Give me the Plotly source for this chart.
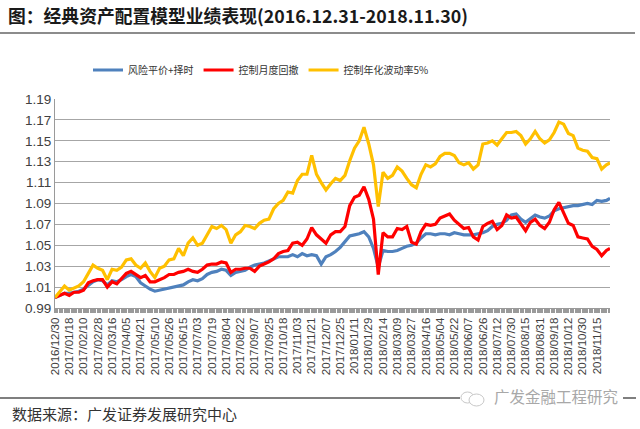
import plotly.graph_objects as go

# ---- data -------------------------------------------------------------
tick_labels = [
    "2016/12/30", "2017/01/18", "2017/02/10", "2017/02/28", "2017/03/16",
    "2017/04/05", "2017/04/21", "2017/05/10", "2017/05/26", "2017/06/15",
    "2017/07/03", "2017/07/19", "2017/08/04", "2017/08/22", "2017/09/07",
    "2017/09/25", "2017/10/18", "2017/11/03", "2017/11/21", "2017/12/07",
    "2017/12/25", "2018/01/11", "2018/01/29", "2018/02/14", "2018/03/09",
    "2018/03/27", "2018/04/16", "2018/05/04", "2018/05/22", "2018/06/07",
    "2018/06/26", "2018/07/12", "2018/07/30", "2018/08/15", "2018/08/31",
    "2018/09/18", "2018/10/12", "2018/10/30", "2018/11/15",
]
label_spacing = 12          # trading days between labels
day_index = list(range(0, 465, 4)) + [467]   # trading-day index of each reading

risk_parity_timing = [
    1.000, 1.002, 1.004, 1.004, 1.005, 1.006, 1.008, 1.012, 1.015, 1.017,
    1.016, 1.012, 1.016, 1.015, 1.017, 1.020, 1.022, 1.020, 1.014, 1.011,
    1.008, 1.006, 1.007, 1.008, 1.009, 1.010, 1.011, 1.012, 1.015, 1.017,
    1.016, 1.018, 1.022, 1.024, 1.025, 1.027, 1.026, 1.021, 1.024, 1.025,
    1.026, 1.029, 1.031, 1.032, 1.033, 1.035, 1.037, 1.039, 1.039, 1.039,
    1.041, 1.039, 1.042, 1.040, 1.041, 1.040, 1.032, 1.039, 1.041, 1.044,
    1.048, 1.053, 1.059, 1.060, 1.061, 1.063, 1.058, 1.047, 1.029, 1.045,
    1.044, 1.044, 1.045, 1.047, 1.049, 1.050, 1.052, 1.057, 1.061, 1.061,
    1.060, 1.061, 1.061, 1.060, 1.062, 1.061, 1.060, 1.060, 1.060, 1.061,
    1.062, 1.064, 1.068, 1.070, 1.071, 1.074, 1.079, 1.080, 1.075, 1.072,
    1.076, 1.079, 1.077, 1.076, 1.078, 1.083, 1.085, 1.086, 1.087, 1.088,
    1.088, 1.089, 1.090, 1.089, 1.093, 1.092, 1.093, 1.095,
]
monthly_drawdown_ctrl = [
    1.000, 1.002, 1.004, 1.002, 1.005, 1.005, 1.007, 1.014, 1.016, 1.017,
    1.017, 1.010, 1.015, 1.013, 1.018, 1.023, 1.025, 1.022, 1.019, 1.021,
    1.015, 1.015, 1.017, 1.019, 1.022, 1.022, 1.024, 1.025, 1.027, 1.025,
    1.024, 1.027, 1.031, 1.032, 1.032, 1.034, 1.033, 1.024, 1.027, 1.027,
    1.028, 1.028, 1.025, 1.030, 1.032, 1.034, 1.037, 1.042, 1.044, 1.045,
    1.052, 1.053, 1.050, 1.056, 1.067, 1.060, 1.056, 1.052, 1.060, 1.063,
    1.063, 1.068, 1.088, 1.096, 1.098, 1.106, 1.094, 1.075, 1.022, 1.062,
    1.058, 1.058, 1.066, 1.065, 1.068, 1.053, 1.051, 1.063, 1.070, 1.069,
    1.070, 1.076, 1.078, 1.080, 1.074, 1.070, 1.066, 1.067, 1.058, 1.055,
    1.068, 1.071, 1.073, 1.065, 1.069, 1.079, 1.076, 1.077, 1.071, 1.064,
    1.072, 1.075, 1.069, 1.066, 1.072, 1.084, 1.091, 1.080, 1.071, 1.069,
    1.058, 1.057, 1.056, 1.049, 1.046, 1.040, 1.045, 1.047,
]
vol_target_5 = [
    1.000, 1.006, 1.011, 1.007, 1.009, 1.011, 1.015, 1.023, 1.031, 1.028,
    1.026, 1.017, 1.027, 1.026, 1.029, 1.036, 1.037, 1.031, 1.028, 1.033,
    1.025, 1.019, 1.028, 1.030, 1.036, 1.037, 1.047, 1.040, 1.052, 1.057,
    1.050, 1.052, 1.060, 1.068, 1.066, 1.069, 1.065, 1.052, 1.060, 1.063,
    1.069, 1.068, 1.066, 1.071, 1.074, 1.075, 1.085, 1.090, 1.093, 1.101,
    1.100, 1.112, 1.118, 1.118, 1.136, 1.118, 1.110, 1.103, 1.109, 1.114,
    1.112, 1.117, 1.131, 1.143, 1.150, 1.163, 1.147, 1.127, 1.087, 1.120,
    1.114, 1.117, 1.125, 1.121, 1.114, 1.108, 1.105, 1.118, 1.127, 1.125,
    1.128, 1.135, 1.138, 1.138, 1.136, 1.129, 1.127, 1.129, 1.123, 1.127,
    1.147, 1.148, 1.150, 1.146, 1.152, 1.158, 1.158, 1.159, 1.155, 1.147,
    1.152, 1.159, 1.152, 1.148, 1.151, 1.158, 1.168, 1.166, 1.157, 1.155,
    1.143, 1.141, 1.140, 1.134, 1.133, 1.123, 1.127, 1.129,
]
y_ticks = [0.99, 1.01, 1.03, 1.05, 1.07, 1.09, 1.11, 1.13, 1.15, 1.17, 1.19]

series_names = ["风险平价+择时", "控制月度回撤", "控制年化波动率5%"]
series_colors = ["#4F81BD", "#FF0000", "#FFC000"]

# ---- figure -----------------------------------------------------------
W, H = 640, 429
L, R, T, B = 55, 30, 99, 121
PW, PH = W - L - R, H - T - B


def px_x(x):   # page pixel -> paper x
    return (x - L) / PW


def px_y(y):   # page pixel -> paper y
    return (H - B - y) / PH


fig = go.Figure()
for name, vals, col in zip(series_names,
                           [risk_parity_timing, monthly_drawdown_ctrl, vol_target_5],
                           series_colors):
    fig.add_trace(go.Scatter(x=day_index, y=vals, mode="lines", name=name,
                             line=dict(color=col, width=3.2)))

tickvals = [i * label_spacing for i in range(len(tick_labels))]
grey = "#9a9a9a"

fig.update_layout(
    width=W, height=H,
    margin=dict(l=L, r=R, t=T, b=B, autoexpand=False),
    paper_bgcolor="white", plot_bgcolor="white",
    title=dict(
        text="<b>图：经典资产配置模型业绩表现(2016.12.31-2018.11.30)</b>",
        font=dict(family="Noto Sans CJK SC", size=17.8, color="#1a1a1a"),
        x=8 / W, xanchor="left", xref="container",
        y=1 - 17 / H, yanchor="middle", yref="container",
    ),
    showlegend=True,
    legend=dict(
        orientation="h", x=px_x(88), xanchor="left", y=px_y(70), yanchor="middle",
        font=dict(family="Noto Sans CJK SC", size=10, color="#333333"),
        bgcolor="rgba(0,0,0,0)", itemwidth=30,
    ),
    xaxis=dict(
        range=[0, 467], tickmode="array", tickvals=tickvals, ticktext=tick_labels,
        tickangle=-90, tickfont=dict(family="Liberation Sans", size=11.5, color="#404040"),
        ticks="outside", ticklen=4, tickwidth=1.5, tickcolor=grey,
        showline=True, linecolor=grey, linewidth=1,
        showgrid=False, zeroline=False, automargin=False,
        minor=dict(ticks="outside", tick0=0, dtick=2, ticklen=4, tickwidth=1.5,
                   tickcolor=grey, showgrid=False),
    ),
    yaxis=dict(
        range=[0.9899, 1.1901], tickmode="array", tickvals=y_ticks,
        tickformat=".2f", tickfont=dict(family="Liberation Sans", size=13.5, color="#404040"),
        showgrid=True, gridcolor="#a6a6a6", gridwidth=1,
        showline=True, linecolor=grey, linewidth=1,
        zeroline=False, ticks="", automargin=False,
    ),
    shapes=[
        dict(type="line", xref="paper", yref="paper",
             x0=px_x(0), x1=px_x(635), y0=px_y(33), y1=px_y(33),
             line=dict(color="#8c8c8c", width=2)),
        dict(type="line", xref="paper", yref="paper",
             x0=px_x(0), x1=px_x(460), y0=px_y(398), y1=px_y(398),
             line=dict(color="#555555", width=1.5)),
        dict(type="line", xref="paper", yref="paper",
             x0=px_x(623), x1=px_x(636), y0=px_y(398), y1=px_y(398),
             line=dict(color="#555555", width=1.5)),
        # watermark icon (two small outlined bubbles)
        dict(type="circle", xref="paper", yref="paper",
             x0=px_x(461), x1=px_x(474), y0=px_y(403), y1=px_y(392),
             line=dict(color="#c8c8c8", width=1)),
        dict(type="circle", xref="paper", yref="paper",
             x0=px_x(469), x1=px_x(484), y0=px_y(406), y1=px_y(394),
             line=dict(color="#c8c8c8", width=1), fillcolor="white"),
    ],
    annotations=[
        dict(text="数据来源：广发证券发展研究中心", xref="paper", yref="paper",
             x=px_x(10), y=px_y(413), xanchor="left", yanchor="middle",
             showarrow=False,
             font=dict(family="Noto Sans CJK SC", size=15, color="#333333")),
        dict(text="广发金融工程研究", xref="paper", yref="paper",
             x=px_x(556), y=px_y(396), xanchor="center", yanchor="middle",
             showarrow=False,
             font=dict(family="Noto Sans CJK SC", size=15.5, color="#a8a8a8")),
    ],
)

fig.write_html("out.html", config={"displayModeBar": False},
               post_script="document.body.style.margin='0px';document.body.style.padding='0px';")
